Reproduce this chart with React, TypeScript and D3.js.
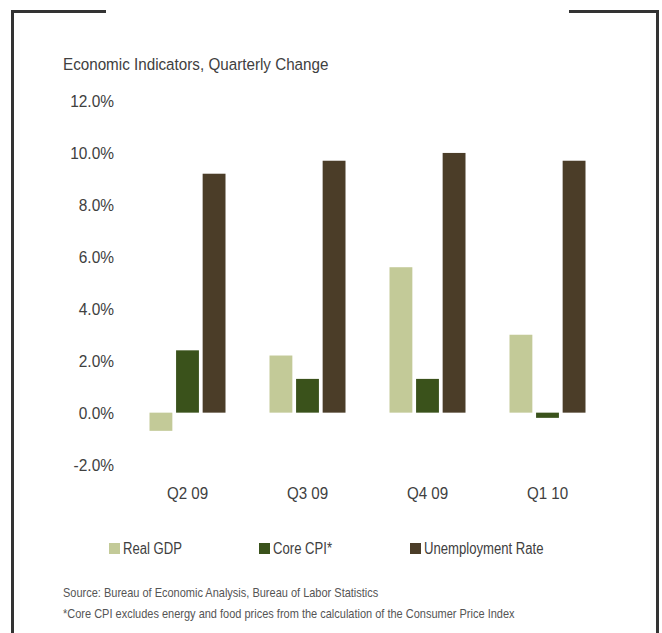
import React from 'react';
import * as d3 from 'd3';

const quarters = ['Q2 09', 'Q3 09', 'Q4 09', 'Q1 10'];
const seriesNames = ['Real GDP', 'Core CPI*', 'Unemployment Rate'];
const realGdp = [-0.7, 2.2, 5.6, 3.0];
const coreCpi = [2.4, 1.3, 1.3, -0.2];
const unemployment = [9.2, 9.7, 10.0, 9.7];
const yTicks = [-2, 0, 2, 4, 6, 8, 10, 12];
const colors = ['#c3ca98', '#3a521b', '#4b3d28'];

const W = 662;
const H = 633;
const font = "'Liberation Sans', Arial, sans-serif";
const textColor = '#404040';

// no narrow font installed, so squeeze text horizontally instead
const NText = ({ x, y, sx, size, anchor = 'start', fill = textColor, children }: any) => (
  <g transform={`translate(${x},${y}) scale(${sx},1)`}>
    <text fontSize={size} textAnchor={anchor} fill={fill}>{children}</text>
  </g>
);

const App = () => {
  const series = [realGdp, coreCpi, unemployment];

  const x = d3.scaleBand<string>()
    .domain(quarters)
    .range([127.5, 607.5])
    .paddingInner(0)
    .paddingOuter(0);

  const xInner = d3.scaleBand<number>()
    .domain([0, 1, 2])
    .range([x.bandwidth() / 2 - 38, x.bandwidth() / 2 + 38])
    .paddingInner(0.14);

  const y = d3.scaleLinear()
    .domain([-2, 12])
    .range([464.6, 101]);

  const legendX = [109, 259, 410];
  const fmt = (t: number) => `${t < 0 ? '-' : ''}${Math.abs(t).toFixed(1)}%`;

  return (
    <svg width={W} height={H} style={{ position: 'absolute', left: 0, top: 0, background: '#fff' }}
      fontFamily={font}>
      {/* frame */}
      <g stroke="#333" strokeWidth={3} fill="none">
        <path d={`M106,11.5 H12.5 V${H}`} />
        <path d={`M569,11.5 H657.5 V${H}`} />
      </g>

      <NText x={63} y={70} sx={0.895} size={17}>Economic Indicators, Quarterly Change</NText>

      {/* y axis labels */}
      {yTicks.map(t => (
        <NText key={t} x={114} y={y(t) + 6} sx={0.91} size={17} anchor="end">{fmt(t)}</NText>
      ))}

      {/* bars */}
      {quarters.map((q, i) => (
        <g key={q} transform={`translate(${x(q)},0)`}>
          {series.map((s, j) => (
            <rect key={j}
              x={xInner(j)}
              y={y(Math.max(0, s[i]))}
              width={xInner.bandwidth()}
              height={Math.abs(y(s[i]) - y(0))}
              fill={colors[j]} />
          ))}
        </g>
      ))}

      {/* x labels */}
      {quarters.map(q => (
        <NText key={q} x={(x(q) as number) + x.bandwidth() / 2} y={499} sx={0.89} size={17}
          anchor="middle">{q}</NText>
      ))}

      {/* legend */}
      {seriesNames.map((n, j) => (
        <g key={n}>
          <rect x={legendX[j]} y={543} width={11} height={11} fill={colors[j]} />
          <NText x={legendX[j] + 14} y={554} sx={0.82} size={16}>{n}</NText>
        </g>
      ))}

      <NText x={63} y={597} sx={0.88} size={12.5} fill="#555">Source: Bureau of Economic Analysis, Bureau of Labor Statistics</NText>
      <NText x={63} y={618} sx={0.88} size={12.5} fill="#555">*Core CPI excludes energy and food prices from the calculation of the Consumer Price Index</NText>
    </svg>
  );
};

export default App;
